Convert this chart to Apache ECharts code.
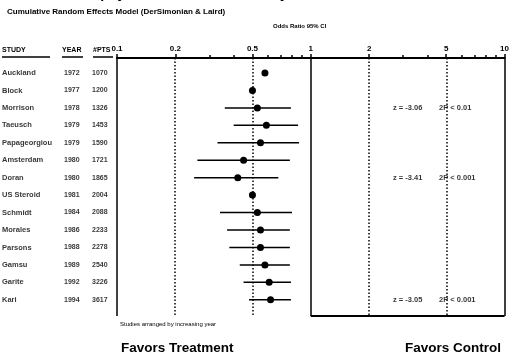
<!DOCTYPE html>
<html>
<head>
<meta charset="utf-8">
<script src="https://cdn.jsdelivr.net/npm/echarts@6/dist/echarts.min.js"></script>
<style>
  html, body { margin: 0; padding: 0; background: #fff; }
  #forestChart { width: 512px; height: 356px; }
</style>
</head>
<body>
<div id="forestChart"></div>
<script>
// Cumulative meta-analysis data
const studies = ['Auckland', 'Block', 'Morrison', 'Taeusch', 'Papageorgiou', 'Amsterdam', 'Doran',
    'US Steroid', 'Schmidt', 'Morales', 'Parsons', 'Gamsu', 'Garite', 'Kari'];
const years = [1972, 1977, 1978, 1979, 1979, 1980, 1980, 1981, 1984, 1986, 1988, 1989, 1992, 1994];
const patients = [1070, 1200, 1326, 1453, 1590, 1721, 1865, 2004, 2088, 2233, 2278, 2540, 3226, 3617];
const oddsRatio = [0.58, 0.50, 0.53, 0.59, 0.55, 0.45, 0.42, 0.50, 0.53, 0.55, 0.55, 0.58, 0.61, 0.62];
const ciLow = [null, null, 0.36, 0.40, 0.33, 0.26, 0.25, null, 0.34, 0.37, 0.38, 0.43, 0.45, 0.48];
const ciHigh = [null, null, 0.79, 0.86, 0.87, 0.78, 0.68, null, 0.80, 0.78, 0.78, 0.78, 0.79, 0.79];

// Axis ticks (odds ratio, log scale)
const majorTicks = [0.1, 0.2, 0.5, 1, 2, 5, 10];
const minorTicks = [0.3, 0.4, 0.6, 0.7, 0.8, 0.9, 3, 4, 6, 7, 8, 9];
const dottedRefs = [0.2, 0.5, 2, 5];
const solidRefs = [0.1, 1, 10];

// z / p annotations
const noteRows = [2, 6, 13];
const zText = ['z = -3.06', 'z = -3.41', 'z = -3.05'];
const pText = ['2P < 0.01', '2P < 0.001', '2P < 0.001'];

const FONT = '"Liberation Sans", Arial, sans-serif';
const yMin = -0.86, yMax = 13.93;
const lg = v => Math.log10(v);

function textSeries(xPos, values, size) {
    return {
        type: 'scatter',
        xAxisIndex: 2,
        yAxisIndex: 1,
        symbolSize: 0,
        silent: true,
        clip: false,
        data: values.map((v, i) => [xPos, i, v]),
        label: {
            show: true,
            position: 'right',
            distance: 0,
            formatter: p => p.value[2],
            color: '#000',
            fontFamily: FONT,
            fontWeight: 'bold',
            fontSize: size
        }
    };
}

const forestCtx = echarts.init(document.getElementById('forestChart'));
var option = {
    animation: false,
    backgroundColor: '#fff',
    grid: [
        { left: 117, right: 4, top: 58, bottom: 40 },
        { left: 0, right: 0, top: 58, bottom: 40 }
    ],
    xAxis: [
        {
            gridIndex: 0,
            type: 'value',
            position: 'top',
            min: -1,
            max: 1,
            splitLine: { show: false },
            axisLine: { onZero: false, lineStyle: { color: '#000', width: 2 } },
            axisTick: { customValues: majorTicks.map(lg), length: 4, lineStyle: { color: '#000', width: 1.5 } },
            axisLabel: {
                customValues: majorTicks.map(lg),
                formatter: v => String(Math.round(Math.pow(10, v) * 10) / 10),
                color: '#000',
                fontFamily: FONT,
                fontWeight: 'bold',
                fontSize: 8,
                margin: 5,
                showMinLabel: true,
                showMaxLabel: true
            }
        },
        {
            gridIndex: 0,
            type: 'value',
            position: 'top',
            min: -1,
            max: 1,
            splitLine: { show: false },
            axisLine: { show: false, onZero: false },
            axisTick: { customValues: minorTicks.map(lg), length: 3, lineStyle: { color: '#000', width: 1.5 } },
            axisLabel: { show: false }
        },
        { gridIndex: 1, type: 'value', min: 0, max: 512, show: false }
    ],
    yAxis: [
        { gridIndex: 0, type: 'value', inverse: true, min: yMin, max: yMax, show: false },
        { gridIndex: 1, type: 'value', inverse: true, min: yMin, max: yMax, show: false }
    ],
    graphic: [
        { type: 'text', left: 77, top: -13, style: { text: 'Prophylactic Steroids: Mortality', fill: '#000', font: 'bold 14px ' + FONT } },
        { type: 'text', left: 7, top: 8, style: { text: 'Cumulative Random Effects Model (DerSimonian & Laird)', fill: '#000', font: 'bold 8px ' + FONT } },
        { type: 'text', left: 273, top: 23, style: { text: 'Odds Ratio 95% CI', fill: '#000', font: 'bold 6px ' + FONT } },
        { type: 'text', left: 2, top: 47, style: { text: 'STUDY', fill: '#000', font: 'bold 7px ' + FONT } },
        { type: 'text', left: 62, top: 47, style: { text: 'YEAR', fill: '#000', font: 'bold 7px ' + FONT } },
        { type: 'text', left: 93, top: 47, style: { text: '#PTS', fill: '#000', font: 'bold 7px ' + FONT } },
        { type: 'line', shape: { x1: 2, y1: 57, x2: 50, y2: 57 }, style: { stroke: '#000', lineWidth: 1.5 } },
        { type: 'line', shape: { x1: 62, y1: 57, x2: 83, y2: 57 }, style: { stroke: '#000', lineWidth: 1.5 } },
        { type: 'line', shape: { x1: 93, y1: 57, x2: 113, y2: 57 }, style: { stroke: '#000', lineWidth: 1.5 } },
        { type: 'text', left: 120, top: 321, style: { text: 'Studies arranged by increasing year', fill: '#000', font: '6px ' + FONT } },
        { type: 'text', left: 121, top: 341, style: { text: 'Favors Treatment', fill: '#000', font: 'bold 13.5px ' + FONT } },
        { type: 'text', left: 405, top: 341, style: { text: 'Favors Control', fill: '#000', font: 'bold 13.5px ' + FONT } }
    ],
    series: [
        {
            type: 'custom',
            xAxisIndex: 0,
            yAxisIndex: 0,
            clip: false,
            silent: true,
            data: oddsRatio.map((v, i) => [lg(v), i]),
            encode: { x: 0, y: 1 },
            renderItem: function (params, api) {
                const i = params.dataIndex;
                const c = api.coord([lg(oddsRatio[i]), i]);
                const children = [];
                if (ciLow[i] != null) {
                    const a = api.coord([lg(ciLow[i]), i]);
                    const b = api.coord([lg(ciHigh[i]), i]);
                    children.push({
                        type: 'line',
                        shape: { x1: a[0], y1: a[1], x2: b[0], y2: b[1] },
                        style: { stroke: '#000', lineWidth: 1.5 }
                    });
                }
                children.push({ type: 'circle', shape: { cx: c[0], cy: c[1], r: 3.5 }, style: { fill: '#000' } });
                return { type: 'group', children: children };
            },
            markLine: {
                silent: true,
                symbol: ['none', 'none'],
                label: { show: false },
                data: solidRefs.map(v => ({ xAxis: lg(v), lineStyle: { color: '#000', width: 1.5, type: 'solid' } }))
                    .concat(dottedRefs.map(v => ({ xAxis: lg(v), lineStyle: { color: '#000', width: 1.5, type: [1.5, 2] } })))
                    .concat([[
                        { coord: [lg(1), yMax], lineStyle: { color: '#000', width: 2, type: 'solid' } },
                        { coord: [lg(10), yMax] }
                    ]])
            }
        },
        textSeries(2, studies, 7.5),
        textSeries(64, years, 7),
        textSeries(92, patients, 7),
        {
            type: 'scatter',
            xAxisIndex: 2,
            yAxisIndex: 1,
            symbolSize: 0,
            silent: true,
            data: noteRows.map((r, k) => [393, r, zText[k]]),
            label: { show: true, position: 'right', distance: 0, formatter: p => p.value[2], color: '#000', fontFamily: FONT, fontWeight: 'bold', fontSize: 7.5 }
        },
        {
            type: 'scatter',
            xAxisIndex: 2,
            yAxisIndex: 1,
            symbolSize: 0,
            silent: true,
            data: noteRows.map((r, k) => [439, r, pText[k]]),
            label: { show: true, position: 'right', distance: 0, formatter: p => p.value[2], color: '#000', fontFamily: FONT, fontWeight: 'bold', fontSize: 7.5 }
        }
    ]
};
forestCtx.setOption(option);
</script>
</body>
</html>
